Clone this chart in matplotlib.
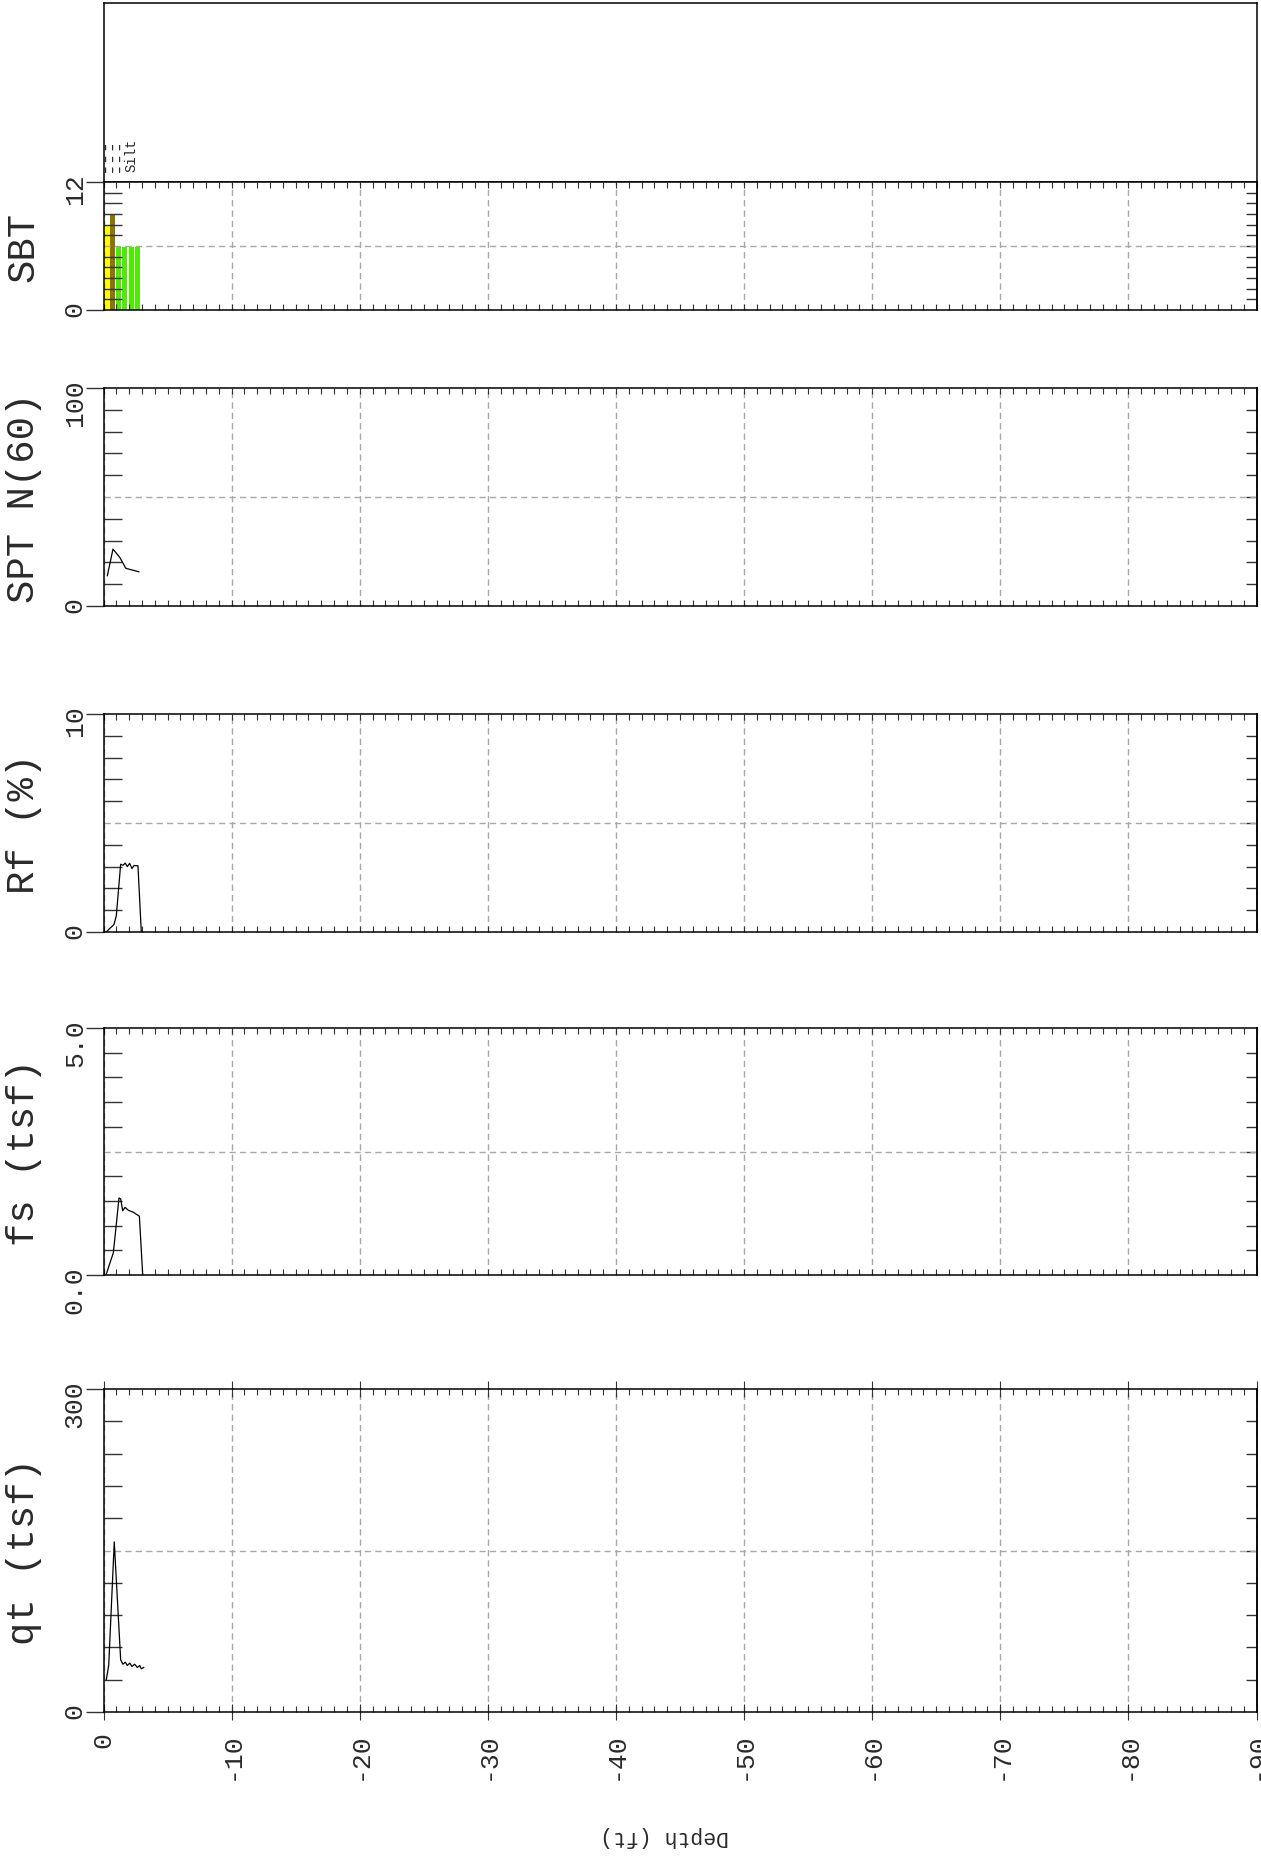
import matplotlib
matplotlib.use("Agg")
import matplotlib.pyplot as plt
from matplotlib.ticker import FixedLocator, NullFormatter, FixedFormatter

plt.rcParams['axes.unicode_minus'] = False
plt.rcParams['font.family'] = ['Liberation Mono', 'DejaVu Sans Mono']

# ---------------- data ----------------
depth_ticks = [0, -10, -20, -30, -40, -50, -60, -70, -80, -90]
depth_tick_labels = ['0', '-10', '-20', '-30', '-40', '-50', '-60', '-70', '-80', '-90']

sbt_depth = [0.28, 0.71, 1.18, 1.64, 2.18, 2.64]
sbt_zone = [7.9, 8.9, 5.9, 5.9, 5.9, 5.9]
sbt_colors = ['#FFFF00', '#8C7200', '#4CEB00', '#4CEB00', '#4CEB00', '#4CEB00']
dash_label_depth = 0.60
dash_label_text = '---\n---\n---'
silt_label_depth = 2.17
silt_label_text = 'Silt'

spt_depth = [0.30, 0.74, 1.27, 1.74, 2.76]
spt_n60 = [13.9, 26.1, 22.3, 17.3, 15.7]

rf_depth = [0.20, 0.30, 0.48, 0.66, 0.82, 1.00, 1.34, 1.52, 1.70, 1.86, 2.04, 2.22, 2.38, 2.56, 2.69, 2.95]
rf_val = [0.0, 0.05, 0.16, 0.25, 0.35, 0.74, 3.11, 3.06, 3.16, 3.00, 3.15, 2.91, 3.05, 3.04, 3.04, 0.0]

fs_depth = [0.20, 0.51, 0.77, 1.21, 1.34, 1.50, 1.68, 1.94, 2.33, 2.80, 3.06]
fs_val = [0.0, 0.25, 0.45, 1.56, 1.54, 1.30, 1.37, 1.31, 1.27, 1.19, 0.0]

qt_depth = [0.22, 0.41, 0.84, 1.34, 1.52, 1.70, 1.86, 2.05, 2.22, 2.43, 2.64, 2.83, 2.95, 3.14]
qt_val = [30, 43.8, 158, 48.4, 44.4, 46.3, 43.2, 45.4, 42.3, 44.4, 41.4, 43.2, 40.1, 41.4]

panel_names = ['SBT', 'SPT N(60)', 'Rf (%)', 'fs (tsf)', 'qt (tsf)']
panel_max = [12, 100, 10, 5.0, 300]
panel_steps = [1, 10, 1, 0.5, 30]
panel_labels = [['0', '12'], ['0', '100'], ['0', '10'], ['0.0', '5.0'], ['0', '300']]

# ---------------- layout (figure px) ----------------
W, H = 1261, 1858
fig = plt.figure(figsize=(W / 100, H / 100), dpi=100)
x0, x1 = 103.5, 1256.5
panel_px = [(183, 311), (389, 607), (715, 933), (1029, 1276), (1390, 1713)]

def rect(top, bottom):
    return [x0 / W, 1 - bottom / H, (x1 - x0) / W, (bottom - top) / H]

TXT = '#2a2a2a'
GRID = '#a8a8a8'
TICK = '#333333'

# top label box
ax_top = fig.add_axes(rect(4, 183))
ax_top.set_xlim(0, -90)
ax_top.set_ylim(0, 1)
ax_top.set_xticks([])
ax_top.set_yticks([])
for s in ax_top.spines.values():
    s.set_linewidth(1.1)
ax_top.text(-dash_label_depth, 0.06, dash_label_text, rotation=90, ha='center', va='bottom',
            fontsize=14, linespacing=0.2, color=TXT)
ax_top.text(-silt_label_depth, 0.06, silt_label_text, rotation=90, ha='center', va='bottom',
            fontsize=10, color=TXT)

axes = []
for i, (name, vmax, step, labs) in enumerate(zip(panel_names, panel_max, panel_steps, panel_labels)):
    top, bot = panel_px[i]
    ax = fig.add_axes(rect(top, bot))
    axes.append(ax)
    ax.set_xlim(0, -90)
    ax.set_ylim(0, vmax)
    for s in ax.spines.values():
        s.set_linewidth(1.1)
    # x ticks
    ax.xaxis.set_major_locator(FixedLocator(depth_ticks))
    ax.xaxis.set_minor_locator(FixedLocator([-v for v in range(0, 91) if v % 10 != 0]))
    ax.tick_params(axis='x', which='minor', direction='in', length=4.5, width=0.8,
                   top=True, bottom=True, color=TICK)
    if i == 4:
        ax.set_xticklabels(depth_tick_labels)
        ax.tick_params(axis='x', which='major', direction='inout', length=12, width=0.8,
                       top=True, bottom=True, labelsize=19, labelrotation=90, pad=8,
                       labelcolor=TXT, color=TICK)
    else:
        ax.xaxis.set_major_formatter(NullFormatter())
        ax.tick_params(axis='x', which='major', direction='in', length=4.5, width=0.8,
                       top=True, bottom=True, color=TICK)
    ax.grid(axis='x', which='major', color=GRID, linestyle=(0, (4.5, 3)), linewidth=1.0)
    # y ticks
    n = int(round(vmax / step))
    mid = vmax / 2
    minor_pos = [k * step for k in range(1, n) if abs(k * step - mid) > 1e-9]
    ax.yaxis.set_major_locator(FixedLocator([0, vmax]))
    ax.yaxis.set_major_formatter(FixedFormatter(labs))
    ax.yaxis.set_minor_locator(FixedLocator(minor_pos))
    ax.tick_params(axis='y', which='major', direction='out', length=13, width=1.0,
                   labelsize=19, labelrotation=90, pad=-1, labelcolor=TXT, color=TICK)
    ax.tick_params(axis='y', which='minor', direction='in', length=13, width=1.0,
                   left=True, right=False, color=TICK)
    sec = ax.secondary_yaxis('right')
    sec.set_yticks(minor_pos + [mid])
    sec.tick_params(axis='y', direction='in', length=8, width=1.0, labelright=False, color=TICK)
    sec.spines['right'].set_linewidth(1.1)
    ax.axhline(mid, color=GRID, linestyle=(0, (4.5, 3)), linewidth=1.0, zorder=1.6)
    fig.text(24 / W, 1 - (top + bot) / 2 / H, name, rotation=90, ha='center', va='center',
             fontsize=28, color=TXT)

# SBT bars
axes[0].bar([-d for d in sbt_depth], sbt_zone, width=0.39, color=sbt_colors, zorder=1)
# SPT
axes[1].plot([-d for d in spt_depth], spt_n60, color='black', linewidth=0.9)
# Rf
axes[2].plot([-d for d in rf_depth], rf_val, color='black', linewidth=0.9)
# fs
axes[3].plot([-d for d in fs_depth], fs_val, color='black', linewidth=0.9)
# qt
axes[4].plot([-d for d in qt_depth], qt_val, color='black', linewidth=0.9)

fig.text(665 / W, 1 - 1837 / H, 'Depth (ft)', rotation=180, ha='center', va='center',
         fontsize=15.5, color=TXT)

fig.savefig('out.png', dpi=100)
